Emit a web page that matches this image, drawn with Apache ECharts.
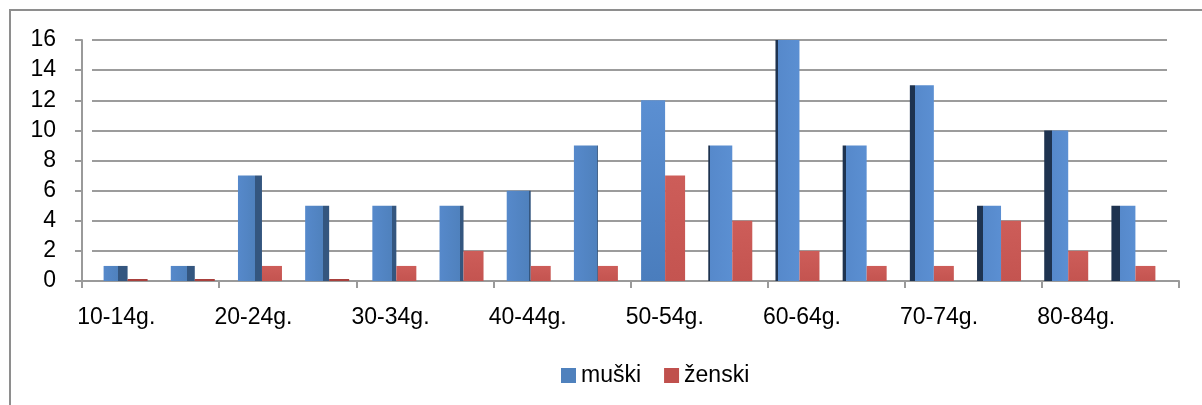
<!DOCTYPE html>
<html>
<head>
<meta charset="utf-8">
<script src="https://cdn.jsdelivr.net/npm/echarts@6/dist/echarts.min.js"></script>
<style>
  html, body { margin: 0; padding: 0; background: #fff; overflow: hidden; }
  #chart { position: absolute; left: 0; top: 0; width: 1202px; height: 405px; }
  #frame { position: absolute; left: 9px; top: 9px; width: 1300px; height: 500px;
           border-left: 2px solid #8e8e8e; border-top: 2px solid #8e8e8e; pointer-events: none; }
</style>
</head>
<body>
<div id="chart"></div>
<div id="frame"></div>
<script>
const categories = ['10-14g.','15-19g.','20-24g.','25-29g.','30-34g.','35-39g.','40-44g.','45-49g.',
                    '50-54g.','55-59g.','60-64g.','65-69g.','70-74g.','75-79g.','80-84g.','85-89g.'];
const muski  = [1, 1, 7, 5, 5, 5, 6, 9, 12, 9, 16, 9, 13, 5, 10, 5];
const zenski = [0, 0, 1, 0, 1, 2, 1, 1, 7, 4, 2, 1, 1, 4, 2, 1];
const seriesNames = ['muški', 'ženski'];
const yMin = 0, yMax = 16, yStep = 2;

const FONT = "'Liberation Sans', Arial, sans-serif";
const BLUE = '#4F81BD', RED = '#C0504D';

function blueStyle(i) {
  const mid = 7.8;
  const side = Math.min(0.4, Math.abs(i - mid) * 1.2 / 24);
  const front = { type: 'linear', x: 0, y: 0, x2: 0, y2: 1,
    colorStops: [{ offset: 0, color: '#5B8FD2' }, { offset: 1, color: '#4A7DBD' }] };
  if (side < 0.02) return { color: front };
  const dark = i < mid ? '#34567F' : '#1E3350';
  const stops = i < mid
    ? [{ offset: 0, color: '#5689CB' }, { offset: 1 - side, color: '#4F81BD' },
       { offset: 1 - side, color: dark }, { offset: 1, color: dark }]
    : [{ offset: 0, color: dark }, { offset: side, color: dark },
       { offset: side, color: '#5689CB' }, { offset: 1, color: '#5B8FD2' }];
  return { color: { type: 'linear', x: 0, y: 0, x2: 1, y2: 0, colorStops: stops } };
}
function redStyle(i, v) {
  if (v === 0) return { color: '#A8403D' };
  return { color: { type: 'linear', x: 0, y: 0, x2: 0, y2: 1,
    colorStops: [{ offset: 0, color: '#CD5D59' }, { offset: 1, color: '#C45450' }] } };
}

const chart = echarts.init(document.getElementById('chart'), null, { renderer: 'canvas' });
chart.setOption({
  animation: false,
  backgroundColor: '#fff',
  textStyle: { fontFamily: FONT },
  legend: {
    data: seriesNames,
    left: 556, top: 359,
    itemWidth: 15, itemHeight: 15, itemGap: 23,
    icon: 'rect',
    textStyle: { fontFamily: FONT, fontSize: 23, color: '#000' }
  },
  grid: [
    { left: 82, right: 23, top: 40, bottom: 124 },
    { left: 92, right: 35, top: 40, bottom: 124 }
  ],
  xAxis: [
    { type: 'category', gridIndex: 0, data: categories, boundaryGap: true,
      axisLine: { lineStyle: { color: '#9a9a9a', width: 2 } },
      axisTick: { show: true, length: 7, lineStyle: { color: '#9a9a9a', width: 2 } },
      axisLabel: { interval: 1, margin: 25, fontSize: 23, color: '#000', fontFamily: FONT } },
    { type: 'category', gridIndex: 1, data: categories, boundaryGap: true,
      axisLine: { show: false }, axisTick: { show: false }, axisLabel: { show: false } }
  ],
  yAxis: [
    { type: 'value', gridIndex: 0, min: yMin, max: yMax, interval: yStep,
      axisLine: { show: true, lineStyle: { color: '#9a9a9a', width: 2 } },
      axisTick: { show: true, length: 7, lineStyle: { color: '#9a9a9a', width: 2 } },
      splitLine: { show: false },
      axisLabel: { margin: 26, fontSize: 23, color: '#000', fontFamily: FONT } },
    { type: 'value', gridIndex: 1, min: yMin, max: yMax, interval: yStep,
      axisLine: { show: false }, axisTick: { show: false }, axisLabel: { show: false },
      splitLine: { show: true, lineStyle: { color: '#9c9c9c', width: 2 } } }
  ],
  series: [
    { name: seriesNames[0], type: 'bar', xAxisIndex: 1, yAxisIndex: 1,
      barWidth: 24, barGap: '0%', itemStyle: { color: BLUE },
      data: muski.map((v, i) => ({ value: v, itemStyle: blueStyle(i) })) },
    { name: seriesNames[1], type: 'bar', xAxisIndex: 1, yAxisIndex: 1,
      barWidth: 20, barGap: '0%', barMinHeight: 2, itemStyle: { color: RED },
      data: zenski.map((v, i) => ({ value: v, itemStyle: redStyle(i, v) })) }
  ]
});
</script>
</body>
</html>
